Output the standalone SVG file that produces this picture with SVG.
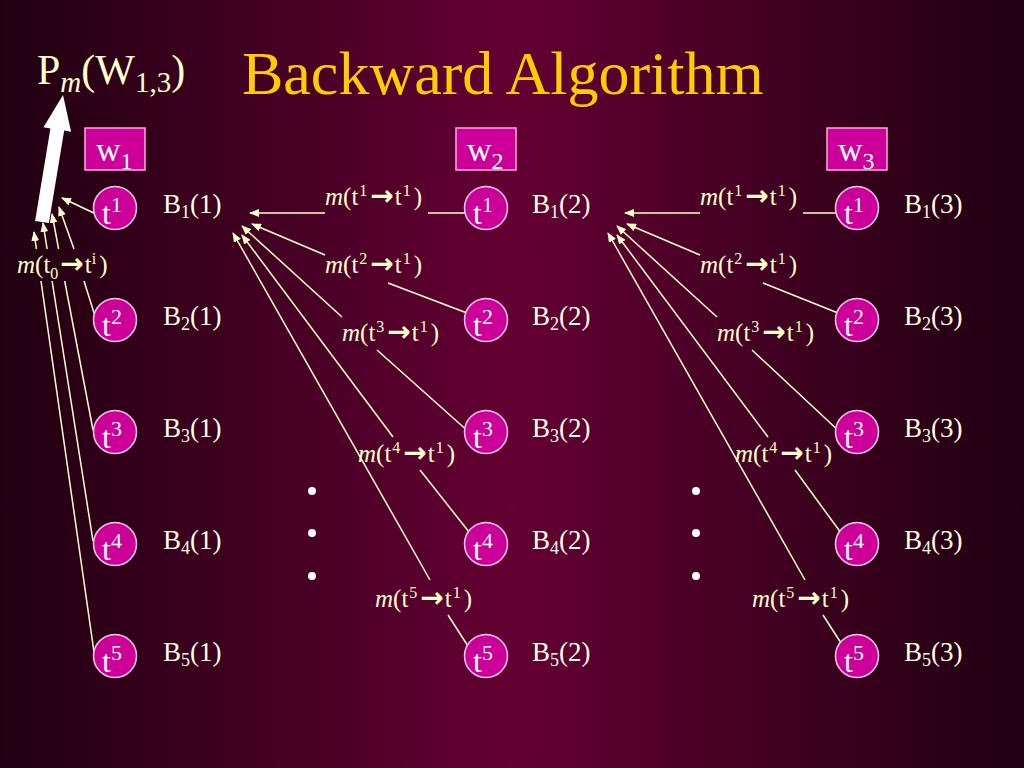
<svg xmlns="http://www.w3.org/2000/svg" width="1024" height="768" viewBox="0 0 1024 768">
<defs>
<linearGradient id="bg" x1="0" y1="0" x2="1" y2="0">
<stop offset="0" stop-color="#200010"/>
<stop offset="0.5" stop-color="#640033"/>
<stop offset="1" stop-color="#200010"/>
</linearGradient>
<marker id="ah" markerUnits="userSpaceOnUse" markerWidth="10" markerHeight="8" refX="9" refY="4" orient="auto">
<path d="M0,0 L10,4 L0,8 Z" fill="#ffffcc"/>
</marker>
<style>
.t{font-family:"Liberation Serif","Times New Roman",serif;}
.title{font-size:62px;fill:#ffcc00;}
.cream{fill:#ffffcc;}
.ml{font-size:25px;fill:#ffffcc;}
.sup{font-size:16px;}
.arr{font-family:"DejaVu Sans",sans-serif;font-weight:bold;font-size:28px;}
.node circle{fill:#cc0099;stroke:#ffccee;stroke-width:1.5;}
.node text{font-size:32px;fill:#ffffff;}
.node tspan{font-size:22px;}
.box rect{fill:#cc0099;stroke:#ffaadd;stroke-width:1.5;}
.box text{font-size:34px;fill:#ffffff;}
.box tspan{font-size:24px;}
.bl{font-size:27px;fill:#ffffe6;}
.bl .sb{font-size:18px;}
.conn line{stroke:#ffffcc;stroke-width:1.5;fill:none;}
.conn line.a{marker-end:url(#ah);}
.dot{fill:#ffffff;}
</style>
</defs>
<rect x="0" y="0" width="1024" height="768" fill="url(#bg)"/>

<text class="t title" x="242" y="94">Backward Algorithm</text>
<text class="t cream" x="37" y="84" font-size="42">P<tspan font-style="italic" font-size="29" dy="8">m</tspan><tspan dy="-8">(W</tspan><tspan font-size="29" dy="8">1,3</tspan><tspan dy="-8">)</tspan></text>

<polygon id="bigArrow" points="35.1,220.9 50.4,128.4 43.5,127.2 63,95 71.1,131.8 64.2,130.6 48.9,223.1" fill="#ffffff"/>

<g id="connectors" class="conn">
<!-- column 1 -->
<line class="a" x1="96" y1="214" x2="62" y2="198"/>
<line class="a" x1="74" y1="249" x2="59" y2="207"/>
<line x1="84" y1="281" x2="95" y2="316"/>
<line class="a" x1="58.6" y1="249" x2="52" y2="214"/>
<line x1="64.7" y1="281" x2="93" y2="430"/>
<line class="a" x1="47.1" y1="249" x2="43" y2="223"/>
<line x1="52.1" y1="281" x2="93" y2="541"/>
<line class="a" x1="36.4" y1="249" x2="34" y2="232"/>
<line x1="41" y1="281" x2="94" y2="652"/>
<!-- column 2 -->
<line class="a" x1="325" y1="213" x2="250" y2="213"/>
<line x1="428" y1="213" x2="468" y2="213"/>
<line class="a" x1="325" y1="255" x2="252" y2="224"/>
<line x1="388" y1="283" x2="467" y2="313"/>
<line class="a" x1="342" y1="317" x2="242" y2="226"/>
<line x1="377" y1="350" x2="470" y2="433"/>
<line class="a" x1="393" y1="437" x2="242" y2="235"/>
<line x1="420" y1="470" x2="473" y2="537"/>
<line class="a" x1="430" y1="580" x2="233" y2="233"/>
<line x1="448" y1="615" x2="475" y2="657"/>
<!-- column 3 -->
<line class="a" x1="700" y1="213" x2="625" y2="213"/>
<line x1="803" y1="213" x2="839" y2="213"/>
<line class="a" x1="700" y1="255" x2="627" y2="224"/>
<line x1="763" y1="283" x2="838" y2="313"/>
<line class="a" x1="717" y1="317" x2="617" y2="226"/>
<line x1="752" y1="350" x2="841" y2="433"/>
<line class="a" x1="768" y1="437" x2="617" y2="235"/>
<line x1="795" y1="470" x2="844" y2="537"/>
<line class="a" x1="805" y1="580" x2="608" y2="233"/>
<line x1="823" y1="615" x2="850" y2="657"/>
</g>

<!-- connector labels -->
<g id="labels" class="t">
<text class="ml" x="17" y="273"><tspan font-style="italic">m</tspan>(t<tspan class="sup" dy="6">0</tspan><tspan class="arr" dy="-6" dx="2">→</tspan><tspan dx="1">t</tspan><tspan class="sup" dy="-9">i</tspan><tspan dy="9" dx="3">)</tspan></text>

<text class="ml" x="325" y="205"><tspan font-style="italic">m</tspan>(t<tspan class="sup" dy="-9" dx="1">1</tspan><tspan class="arr" dy="9" dx="3">→</tspan><tspan dx="1">t</tspan><tspan class="sup" dy="-9" dx="1">1</tspan><tspan dy="9" dx="3">)</tspan></text>
<text class="ml" x="325" y="273"><tspan font-style="italic">m</tspan>(t<tspan class="sup" dy="-9" dx="1">2</tspan><tspan class="arr" dy="9" dx="3">→</tspan><tspan dx="1">t</tspan><tspan class="sup" dy="-9" dx="1">1</tspan><tspan dy="9" dx="3">)</tspan></text>
<text class="ml" x="342" y="341"><tspan font-style="italic">m</tspan>(t<tspan class="sup" dy="-9" dx="1">3</tspan><tspan class="arr" dy="9" dx="3">→</tspan><tspan dx="1">t</tspan><tspan class="sup" dy="-9" dx="1">1</tspan><tspan dy="9" dx="3">)</tspan></text>
<text class="ml" x="358" y="462"><tspan font-style="italic">m</tspan>(t<tspan class="sup" dy="-9" dx="1">4</tspan><tspan class="arr" dy="9" dx="3">→</tspan><tspan dx="1">t</tspan><tspan class="sup" dy="-9" dx="1">1</tspan><tspan dy="9" dx="3">)</tspan></text>
<text class="ml" x="375" y="607"><tspan font-style="italic">m</tspan>(t<tspan class="sup" dy="-9" dx="1">5</tspan><tspan class="arr" dy="9" dx="3">→</tspan><tspan dx="1">t</tspan><tspan class="sup" dy="-9" dx="1">1</tspan><tspan dy="9" dx="3">)</tspan></text>

<text class="ml" x="700" y="205"><tspan font-style="italic">m</tspan>(t<tspan class="sup" dy="-9" dx="1">1</tspan><tspan class="arr" dy="9" dx="3">→</tspan><tspan dx="1">t</tspan><tspan class="sup" dy="-9" dx="1">1</tspan><tspan dy="9" dx="3">)</tspan></text>
<text class="ml" x="700" y="273"><tspan font-style="italic">m</tspan>(t<tspan class="sup" dy="-9" dx="1">2</tspan><tspan class="arr" dy="9" dx="3">→</tspan><tspan dx="1">t</tspan><tspan class="sup" dy="-9" dx="1">1</tspan><tspan dy="9" dx="3">)</tspan></text>
<text class="ml" x="717" y="341"><tspan font-style="italic">m</tspan>(t<tspan class="sup" dy="-9" dx="1">3</tspan><tspan class="arr" dy="9" dx="3">→</tspan><tspan dx="1">t</tspan><tspan class="sup" dy="-9" dx="1">1</tspan><tspan dy="9" dx="3">)</tspan></text>
<text class="ml" x="735" y="462"><tspan font-style="italic">m</tspan>(t<tspan class="sup" dy="-9" dx="1">4</tspan><tspan class="arr" dy="9" dx="3">→</tspan><tspan dx="1">t</tspan><tspan class="sup" dy="-9" dx="1">1</tspan><tspan dy="9" dx="3">)</tspan></text>
<text class="ml" x="752" y="607"><tspan font-style="italic">m</tspan>(t<tspan class="sup" dy="-9" dx="1">5</tspan><tspan class="arr" dy="9" dx="3">→</tspan><tspan dx="1">t</tspan><tspan class="sup" dy="-9" dx="1">1</tspan><tspan dy="9" dx="3">)</tspan></text>
</g>

<!-- word boxes -->
<g id="w1" class="box t"><rect x="85" y="128" width="60" height="42"/><text x="96" y="161">w<tspan dy="8">1</tspan></text></g>
<g id="w2" class="box t"><rect x="456" y="128" width="60" height="42"/><text x="467" y="161">w<tspan dy="8">2</tspan></text></g>
<g id="w3" class="box t"><rect x="827" y="128" width="60" height="42"/><text x="838" y="161">w<tspan dy="8">3</tspan></text></g>

<!-- column 1 nodes -->
<g id="c1t1" class="node t"><circle cx="115" cy="208" r="21.5"/><text x="102" y="224">t<tspan dy="-12">1</tspan></text></g>
<g id="c1t2" class="node t"><circle cx="115" cy="320" r="21.5"/><text x="102" y="336">t<tspan dy="-12">2</tspan></text></g>
<g id="c1t3" class="node t"><circle cx="115" cy="432" r="21.5"/><text x="102" y="448">t<tspan dy="-12">3</tspan></text></g>
<g id="c1t4" class="node t"><circle cx="115" cy="544" r="21.5"/><text x="102" y="560">t<tspan dy="-12">4</tspan></text></g>
<g id="c1t5" class="node t"><circle cx="115" cy="656" r="21.5"/><text x="102" y="672">t<tspan dy="-12">5</tspan></text></g>
<!-- column 2 nodes -->
<g id="c2t1" class="node t"><circle cx="486" cy="208" r="21.5"/><text x="473" y="224">t<tspan dy="-12">1</tspan></text></g>
<g id="c2t2" class="node t"><circle cx="486" cy="320" r="21.5"/><text x="473" y="336">t<tspan dy="-12">2</tspan></text></g>
<g id="c2t3" class="node t"><circle cx="486" cy="432" r="21.5"/><text x="473" y="448">t<tspan dy="-12">3</tspan></text></g>
<g id="c2t4" class="node t"><circle cx="486" cy="544" r="21.5"/><text x="473" y="560">t<tspan dy="-12">4</tspan></text></g>
<g id="c2t5" class="node t"><circle cx="486" cy="656" r="21.5"/><text x="473" y="672">t<tspan dy="-12">5</tspan></text></g>
<!-- column 3 nodes -->
<g id="c3t1" class="node t"><circle cx="857" cy="208" r="21.5"/><text x="844" y="224">t<tspan dy="-12">1</tspan></text></g>
<g id="c3t2" class="node t"><circle cx="857" cy="320" r="21.5"/><text x="844" y="336">t<tspan dy="-12">2</tspan></text></g>
<g id="c3t3" class="node t"><circle cx="857" cy="432" r="21.5"/><text x="844" y="448">t<tspan dy="-12">3</tspan></text></g>
<g id="c3t4" class="node t"><circle cx="857" cy="544" r="21.5"/><text x="844" y="560">t<tspan dy="-12">4</tspan></text></g>
<g id="c3t5" class="node t"><circle cx="857" cy="656" r="21.5"/><text x="844" y="672">t<tspan dy="-12">5</tspan></text></g>

<!-- B labels -->
<g id="blabels" class="t bl">
<text x="163" y="213">B<tspan class="sb" dy="5">1</tspan><tspan dy="-5">(1)</tspan></text>
<text x="163" y="325">B<tspan class="sb" dy="5">2</tspan><tspan dy="-5">(1)</tspan></text>
<text x="163" y="437">B<tspan class="sb" dy="5">3</tspan><tspan dy="-5">(1)</tspan></text>
<text x="163" y="549">B<tspan class="sb" dy="5">4</tspan><tspan dy="-5">(1)</tspan></text>
<text x="163" y="661">B<tspan class="sb" dy="5">5</tspan><tspan dy="-5">(1)</tspan></text>
<text x="532" y="213">B<tspan class="sb" dy="5">1</tspan><tspan dy="-5">(2)</tspan></text>
<text x="532" y="325">B<tspan class="sb" dy="5">2</tspan><tspan dy="-5">(2)</tspan></text>
<text x="532" y="437">B<tspan class="sb" dy="5">3</tspan><tspan dy="-5">(2)</tspan></text>
<text x="532" y="549">B<tspan class="sb" dy="5">4</tspan><tspan dy="-5">(2)</tspan></text>
<text x="532" y="661">B<tspan class="sb" dy="5">5</tspan><tspan dy="-5">(2)</tspan></text>
<text x="904" y="213">B<tspan class="sb" dy="5">1</tspan><tspan dy="-5">(3)</tspan></text>
<text x="904" y="325">B<tspan class="sb" dy="5">2</tspan><tspan dy="-5">(3)</tspan></text>
<text x="904" y="437">B<tspan class="sb" dy="5">3</tspan><tspan dy="-5">(3)</tspan></text>
<text x="904" y="549">B<tspan class="sb" dy="5">4</tspan><tspan dy="-5">(3)</tspan></text>
<text x="904" y="661">B<tspan class="sb" dy="5">5</tspan><tspan dy="-5">(3)</tspan></text>
</g>

<!-- ellipsis dots -->
<g id="dots">
<circle class="dot" cx="312" cy="491" r="4"/>
<circle class="dot" cx="312" cy="533" r="4"/>
<circle class="dot" cx="312" cy="576" r="4"/>
<circle class="dot" cx="696" cy="491" r="4"/>
<circle class="dot" cx="696" cy="533" r="4"/>
<circle class="dot" cx="696" cy="576" r="4"/>
</g>
</svg>
